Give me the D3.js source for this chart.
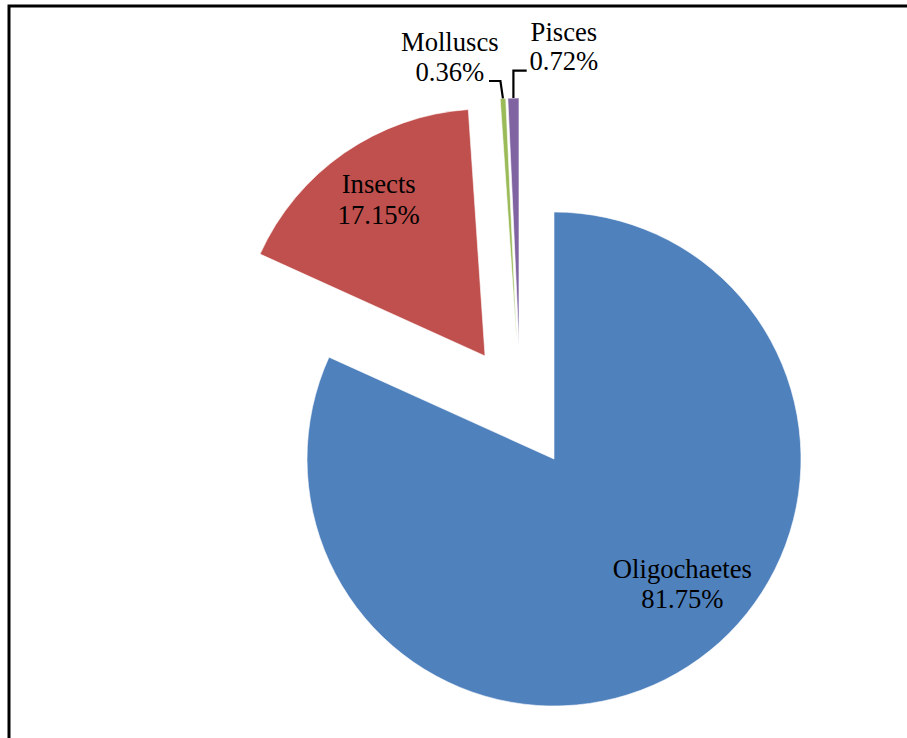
<!DOCTYPE html>
<html>
<head>
<meta charset="utf-8">
<script src="https://cdn.jsdelivr.net/npm/d3@7/dist/d3.min.js"></script>
<style>
  html, body { margin: 0; padding: 0; background: #fff; }
  svg { display: block; }
</style>
</head>
<body>
<svg id="chart" width="907" height="738"></svg>
<script>
// ---- data ----
const categories = ["Oligochaetes", "Insects", "Molluscs", "Pisces"];
const percents = [81.75, 17.15, 0.36, 0.72];
const percentLabels = ["81.75%", "17.15%", "0.36%", "0.72%"];
const colors = ["#4F81BD", "#C0504D", "#9BBB59", "#8064A2"];

// ---- layout ----
const cx = 520.4, cy = 406.9;   // pie center
const radius = 247;
const explode = 62;
const fontSize = 26.67;
// label centres (first-line baseline), relative to pie center
const labelLayout = [
  { dx: 162, dy: 170.8, gap: 30.6 },
  { dx: -141.7, dy: -213.6, gap: 30.7 },
  { dx: -70.6, dy: -356.2, gap: 30.3 },
  { dx: 43.5, dy: -365.9, gap: 29 }
];
// leader lines: label-side end, relative to pie center
const leaderLayout = [
  null, null,
  { x0: -31.4, y0: -325.9, side: -1 },
  { x0: 6.3, y0: -336.2, side: 1 }
];

const svg = d3.select("#chart");

// frame
svg.append("rect")
  .attr("x", 9).attr("y", 6)
  .attr("width", 1000).attr("height", 1000)
  .attr("fill", "none").attr("stroke", "#000").attr("stroke-width", 3);

const data = categories.map((c, i) => ({ name: c, value: percents[i], label: percentLabels[i], color: colors[i] }));

const pie = d3.pie().sort(null).value(d => d.value).startAngle(0).endAngle(2 * Math.PI);
const arcs = pie(data);
const arc = d3.arc().innerRadius(0).outerRadius(radius);

const g = svg.append("g").attr("transform", `translate(${cx},${cy})`);

const offset = d => {
  const m = (d.startAngle + d.endAngle) / 2;
  return [Math.sin(m) * explode, -Math.cos(m) * explode];
};

g.selectAll("path.slice")
  .data(arcs)
  .enter().append("path")
  .attr("class", "slice")
  .attr("transform", d => { const o = offset(d); return `translate(${o[0]},${o[1]})`; })
  .attr("d", arc)
  .attr("fill", d => d.data.color)
  .attr("stroke", "#fff")
  .attr("stroke-width", 0.6);

// leader lines for small slices
arcs.forEach((d, i) => {
  const L = leaderLayout[i];
  if (!L) return;
  const o = offset(d);
  const m = (d.startAngle + d.endAngle) / 2;
  const ex = o[0] + Math.sin(m) * radius;
  const ey = o[1] - Math.cos(m) * radius;
  const pts = L.side < 0
    ? [[L.x0, L.y0], [ex - 2.5, L.y0], [ex, ey]]
    : [[ex, ey], [ex, L.y0], [L.x0, L.y0]];
  g.append("path")
    .attr("d", d3.line()(pts))
    .attr("fill", "none")
    .attr("stroke", "#000")
    .attr("stroke-width", 2.2);
});

// labels
arcs.forEach((d, i) => {
  const L = labelLayout[i];
  const t = g.append("text")
    .attr("font-family", "'Liberation Serif', 'Times New Roman', serif")
    .attr("font-size", fontSize)
    .attr("fill", "#000")
    .attr("text-anchor", "middle");
  t.append("tspan").attr("x", L.dx).attr("y", L.dy).text(d.data.name);
  t.append("tspan").attr("x", L.dx).attr("y", L.dy + L.gap).text(d.data.label);
});
</script>
</body>
</html>
